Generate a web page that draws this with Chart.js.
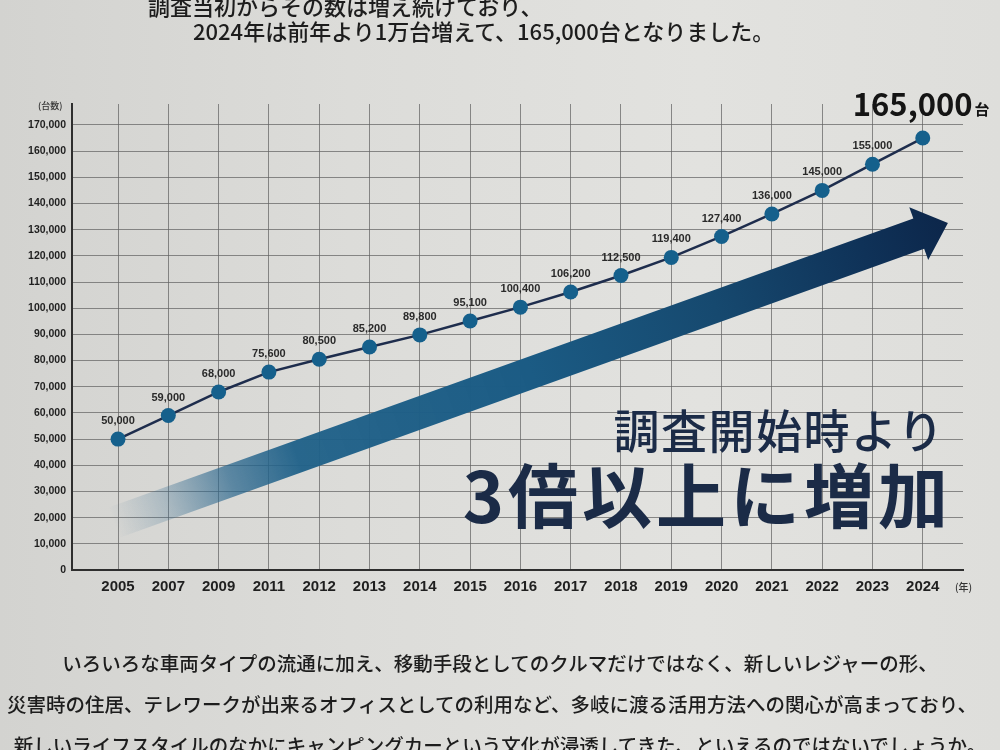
<!DOCTYPE html>
<html lang="ja">
<head>
<meta charset="utf-8">
<title>キャンピングカー保有台数の推移</title>
<script src="https://cdn.jsdelivr.net/npm/chart.js@4.4.1/dist/chart.umd.min.js"></script>
<style>
  html, body { margin:0; padding:0; }
  body {
    width:1000px; height:750px; overflow:hidden; position:relative;
    background: linear-gradient(90deg, #d3d3d0 0%, #dcdcd9 35%, #e2e2df 70%, #dededb 100%);
    font-family: "Noto Sans CJK JP", "Noto Sans", sans-serif;
    color:#1c1c1c;
  }
  #c { position:absolute; left:0; top:0; }
  .t { position:absolute; white-space:nowrap; line-height:1; z-index:2; }
  .lead { font-size:22px; font-weight:500; color:#1d1d1d; }
  .big1 { font-size:46px; font-weight:500; color:#1b2b47; letter-spacing:1.5px; right:55px; top:405px; }
  .big2 { font-size:70px; font-weight:700; color:#1b2b47; letter-spacing:4px; right:48px; top:458px; }
  .para { font-size:19.5px; font-weight:500; color:#1d1d1d; left:0; width:1000px; text-align:center; }
  .small { font-size:9px; font-weight:500; color:#333; }
</style>
</head>
<body>
<canvas id="c" width="1000" height="750"></canvas>

<div class="t lead" style="left:148px; top:-6px;">調査当初からその数は増え続けており、</div>
<div class="t lead" style="left:193px; top:19px;">2024年は前年より1万台増えて、165,000台となりました。</div>

<div class="t small" style="left:38px; top:101px;">(台数)</div>
<div class="t small" style="left:955px; top:582px; font-size:10px;">(年)</div>

<div class="t big1">調査開始時より</div>
<div class="t big2">3倍以上に増加</div>

<div class="t para" style="top:653px;">いろいろな車両タイプの流通に加え、移動手段としてのクルマだけではなく、新しいレジャーの形、</div>
<div class="t para" style="top:694px; left:-8px;">災害時の住居、テレワークが出来るオフィスとしての利用など、多岐に渡る活用方法への関心が高まっており、</div>
<div class="t para" style="top:735px;">新しいライフスタイルのなかにキャンピングカーという文化が浸透してきた、といえるのではないでしょうか。</div>

<script>
// ---- data ----
const years = ['2005','2007','2009','2011','2012','2013','2014','2015','2016','2017','2018','2019','2020','2021','2022','2023','2024'];
const units = [50000, 59000, 68000, 75600, 80500, 85200, 89800, 95100, 100400, 106200, 112500, 119400, 127400, 136000, 145000, 155000, 165000];
const yTicks = [0,10000,20000,30000,40000,50000,60000,70000,80000,90000,100000,110000,120000,130000,140000,150000,160000,170000];
const unitLabel = '台';

// decorative arrow, in data space (category index, value)
const ARROW_FROM = [-0.08, 18100];
const ARROW_TO = [16.5, 132500];

const fmt = v => v.toLocaleString('en-US');

const arrowPlugin = {
  id: 'arrow',
  beforeDatasetsDraw(chart) {
    const { ctx, scales: { x, y } } = chart;
    const x0 = x.getPixelForValue(ARROW_FROM[0]), y0 = y.getPixelForValue(ARROW_FROM[1]);
    const x1 = x.getPixelForValue(ARROW_TO[0]), y1 = y.getPixelForValue(ARROW_TO[1]);
    const dx = x1 - x0, dy = y1 - y0, len = Math.hypot(dx, dy);
    const ux = dx / len, uy = dy / len, nx = -uy, ny = ux;
    const hw = 16, hh = 28, hl = 31;
    const bx = x1 - ux * hl, by = y1 - uy * hl;
    ctx.save();
    const g = ctx.createLinearGradient(x0, y0, x1, y1);
    g.addColorStop(0.00, 'rgba(60,110,145,0.0)');
    g.addColorStop(0.06, 'rgba(50,105,142,0.25)');
    g.addColorStop(0.14, 'rgba(38,100,140,0.7)');
    g.addColorStop(0.22, 'rgba(30,96,136,0.95)');
    g.addColorStop(0.50, '#1b5b84');
    g.addColorStop(0.72, '#16496f');
    g.addColorStop(0.90, '#0f3258');
    g.addColorStop(1.00, '#0c264a');
    ctx.fillStyle = g;
    ctx.beginPath();
    ctx.moveTo(x0 + nx * hw, y0 + ny * hw);
    ctx.lineTo(bx + nx * hw, by + ny * hw);
    ctx.lineTo(bx + nx * hh, by + ny * hh);
    ctx.lineTo(x1, y1);
    ctx.lineTo(bx - nx * hh, by - ny * hh);
    ctx.lineTo(bx - nx * hw, by - ny * hw);
    ctx.lineTo(x0 - nx * hw, y0 - ny * hw);
    ctx.closePath();
    ctx.fill();
    ctx.restore();
  }
};

const labelPlugin = {
  id: 'valueLabels',
  afterDatasetsDraw(chart) {
    const { ctx } = chart;
    const meta = chart.getDatasetMeta(0);
    ctx.save();
    meta.data.forEach((pt, i) => {
      const v = units[i];
      if (i === units.length - 1) {
        ctx.font = '700 31px "Noto Sans CJK JP", "Liberation Sans", sans-serif';
        ctx.fillStyle = '#141414';
        ctx.textAlign = 'left';
        ctx.textBaseline = 'alphabetic';
        const s = fmt(v);
        const sx = pt.x - 70, sy = pt.y - 22;
        ctx.fillText(s, sx, sy);
        const w = ctx.measureText(s).width;
        ctx.font = '700 15px "Noto Sans CJK JP", sans-serif';
        ctx.fillText(unitLabel, sx + w + 2, sy - 1);
      } else {
        ctx.font = '600 11px "Liberation Sans", "Noto Sans", sans-serif';
        ctx.fillStyle = '#2a2a2a';
        ctx.textAlign = 'center';
        ctx.textBaseline = 'middle';
        ctx.fillText(fmt(v), pt.x, pt.y - 18);
      }
    });
    ctx.restore();
  }
};

new Chart(document.getElementById('c'), {
  type: 'line',
  data: {
    datasets: [{
      data: units.map((v, i) => ({ x: i, y: v })),
      borderColor: '#1e2d4d',
      borderWidth: 2.5,
      pointRadius: 7.5,
      pointBackgroundColor: '#15608c',
      pointBorderColor: '#15608c',
      pointBorderWidth: 0,
      tension: 0
    }]
  },
  options: {
    responsive: false,
    animation: false,
    devicePixelRatio: 1,
    layout: { padding: { top: 104, right: 37, bottom: 150, left: 0 } },
    plugins: { legend: { display: false }, tooltip: { enabled: false } },
    scales: {
      x: {
        type: 'linear',
        min: -0.915,
        max: 16.8,
        afterBuildTicks: s => { s.ticks = years.map((_, i) => ({ value: i })); },
        afterFit: s => { s.height = 30; },
        ticks: {
          callback: v => years[v],
          autoSkip: false,
          maxRotation: 0,
          padding: 8,
          color: '#1f1f1f',
          font: { family: '"Liberation Sans", Arial, sans-serif', size: 15, weight: '700' }
        },
        grid: { color: 'rgba(95,95,95,0.7)', lineWidth: 1, drawTicks: false },
        border: { color: '#2e2e2e', width: 2 }
      },
      y: {
        min: 0,
        max: 178000,
        afterBuildTicks: s => { s.ticks = yTicks.map(v => ({ value: v })); },
        afterFit: s => { s.width = 72; },
        ticks: {
          callback: v => fmt(v),
          padding: 6,
          color: '#1f1f1f',
          font: { family: '"Liberation Sans", Arial, sans-serif', size: 10.5, weight: '700' }
        },
        grid: { color: 'rgba(95,95,95,0.7)', lineWidth: 1, drawTicks: false },
        border: { color: '#2e2e2e', width: 2 }
      }
    }
  },
  plugins: [arrowPlugin, labelPlugin]
});
</script>
</body>
</html>
